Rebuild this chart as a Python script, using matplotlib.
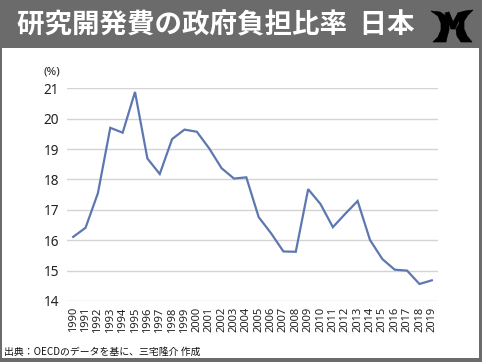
import matplotlib
matplotlib.use("Agg")
import matplotlib.pyplot as plt
from matplotlib.patches import Rectangle, Polygon

plt.rcParams['font.family'] = ['Noto Sans CJK JP', 'DejaVu Sans']

years = list(range(1990, 2020))
ratio = [16.11, 16.41, 17.55, 19.70, 19.54, 20.88, 18.69, 18.18, 19.33, 19.64,
         19.57, 19.02, 18.37, 18.03, 18.07, 16.76, 16.23, 15.63, 15.62, 17.68,
         17.19, 16.43, 16.87, 17.29, 16.01, 15.38, 15.03, 15.00, 14.56, 14.68]
yticks = [14, 15, 16, 17, 18, 19, 20, 21]
title = "研究開発費の政府負担比率  日本"
source = "出典：OECDのデータを基に、三宅隆介 作成"

W, H = 482, 362
fig = plt.figure(figsize=(W / 100, H / 100), dpi=100)
fig.patch.set_facecolor("white")

frame = "#6b6b6b"
def rect(x0, y0, w, h):
    fig.add_artist(Rectangle((x0 / W, 1 - (y0 + h) / H), w / W, h / H,
                             transform=fig.transFigure, facecolor=frame,
                             edgecolor="none", zorder=0))
rect(0, 0, W, 48)
rect(0, 0, 2, H)
rect(W - 3, 0, 3, H)
rect(0, H - 4, W, 4)

fig.text(17 / W, 1 - 25 / H, title, color="white", fontsize=19.8,
         fontweight="bold", ha="left", va="center")

# logo (decorative shape)
def px(pts):
    return [(a / W, 1 - b / H) for a, b in pts]
logo_parts = [
    [(431, 11), (440, 12), (446, 16), (449, 22), (449, 30), (447, 37), (446, 42),
     (433, 42), (438, 37), (441, 30), (441, 23), (438, 16)],
    [(445, 13), (449, 12), (453, 22), (458, 13), (462, 13), (455, 29), (451, 29)],
    [(458, 13), (465, 11), (473, 10), (468, 15), (464, 21), (464, 29), (467, 36),
     (472, 42), (461, 42), (457, 36), (456, 29), (459, 24), (459, 19)],
]
for p in logo_parts:
    fig.add_artist(Polygon(px(p), closed=True, transform=fig.transFigure,
                           facecolor="black", edgecolor="black", linewidth=0.5,
                           zorder=2))

ax = fig.add_axes([67 / W, 1 - 301 / H, (438 - 67) / W, (301 - 88.3) / H])
x = list(range(len(years)))
ax.plot(x, ratio, color="#5d78b0", linewidth=1.6, solid_joinstyle="miter", zorder=3)
ax.set_xlim(-0.5, len(years) - 0.5)
ax.set_ylim(14, 21)
ax.set_yticks(yticks)
ax.set_yticklabels([str(v) for v in yticks], fontsize=9.8, color="#222222",
                   family=["Noto Sans", "DejaVu Sans"])
ax.set_xticks(x)
ax.set_xticklabels([str(y) for y in years], rotation=90, fontsize=8,
                   color="#222222", family=["Noto Sans", "DejaVu Sans"])
ax.tick_params(axis="both", length=0)
ax.tick_params(axis="y", pad=5.5)
ax.tick_params(axis="x", pad=4.5)
for s in ax.spines.values():
    s.set_visible(False)
ax.grid(axis="y", color="#d4d4d4", linewidth=1.0)
ax.set_axisbelow(True)

fig.text(52 / W, 1 - 71.5 / H, "(%)", fontsize=8.3, color="#222222",
         ha="center", va="center", family=["Noto Sans", "DejaVu Sans"])
fig.text(4 / W, 1 - 351.5 / H, source, fontsize=7.1, color="#111111",
         ha="left", va="center")

fig.savefig("out.png", dpi=100)
